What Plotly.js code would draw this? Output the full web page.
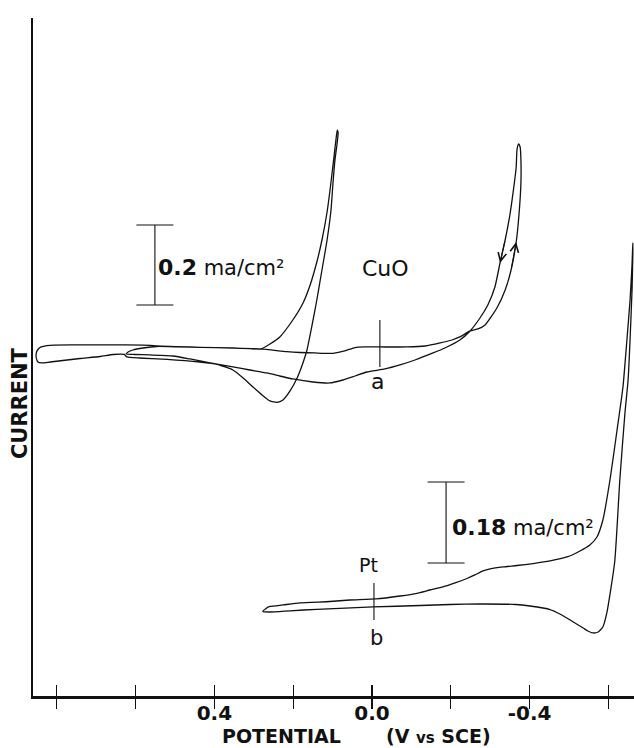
<!DOCTYPE html>
<html>
<head>
<meta charset="utf-8">
<script src="https://cdn.plot.ly/plotly-3.0.1.min.js"></script>
<style>
  html, body { margin: 0; padding: 0; background: #ffffff; }
  #chart { width: 634px; height: 748px; }
</style>
</head>
<body>
<div id="chart"></div>
<script>
// ---------- data (potential in V vs SCE, current in arbitrary chart units) ----------
const potentialTicks = [0.8, 0.6, 0.4, 0.2, 0.0, -0.2, -0.4, -0.6];
const potentialTickText = ['', '', '0.4', '', '0.0', '', '-0.4', ''];

// CuO voltammogram (one continuous pen trace)
const cuoPotential = [
  -0.020, -0.089, -0.135, -0.173, -0.203, -0.223, -0.249,
  -0.269, -0.287, -0.317, -0.338, -0.353, -0.366, -0.373, -0.378, -0.378, -0.376, -0.372,
  -0.368, -0.366, -0.358, -0.350, -0.338, -0.325, -0.312, -0.294, -0.274, -0.249,
  -0.223, -0.185, -0.155, -0.109, -0.071, -0.033, 0.013, 0.043, 0.074, 0.107, 0.150,
  0.201, 0.234, 0.267, 0.310, 0.353, 0.411, 0.462, 0.505, 0.564, 0.602, 0.624,
  0.619, 0.607, 0.581, 0.546,
  0.487, 0.437, 0.353, 0.310, 0.282,
  0.259, 0.234, 0.201, 0.175, 0.157, 0.140, 0.127, 0.114, 0.104, 0.096, 0.091, 0.088,
  0.086, 0.089, 0.094, 0.099, 0.104, 0.114, 0.127, 0.140, 0.152, 0.165, 0.178, 0.190, 0.208, 0.226, 0.241,
  0.259, 0.279, 0.302, 0.327, 0.353, 0.393, 0.437, 0.520, 0.589, 0.622,
  0.629, 0.657, 0.690, 0.741, 0.774, 0.817, 0.838,
  0.848, 0.852, 0.852, 0.848, 0.840,
  0.817, 0.754, 0.690, 0.627, 0.563, 0.546, 0.437, 0.353, 0.282, 0.216, 0.183, 0.145, 0.099, 0.069, 0.043, 0.018, -0.020
];
const cuoCurrent = [
  43.63, 43.63, 43.75, 44.13, 44.50, 44.88, 45.63,
  45.88, 46.38, 48.50, 50.75, 53.25, 56.75, 60.13, 64.13, 67.00, 68.63, 69.00,
  68.25, 66.13, 62.88, 60.13, 57.00, 54.13, 51.13, 48.88, 47.25, 45.63,
  44.50, 43.50, 42.88, 42.00, 41.38, 40.88, 40.50, 40.00, 39.50, 39.13, 39.25,
  39.63, 40.00, 40.38, 40.75, 41.13, 41.63, 42.13, 42.50, 42.63, 42.69, 42.75,
  43.00, 43.25, 43.50, 43.69,
  43.63, 43.59, 43.50, 43.41, 43.38,
  44.00, 44.88, 47.00, 49.13, 51.38, 54.25, 57.00, 60.50, 64.25, 67.63, 69.75, 70.75,
  70.38, 68.88, 67.00, 64.13, 60.75, 57.00, 53.25, 49.50, 46.38, 43.25, 41.25, 39.75, 38.13, 37.00, 36.71,
  36.88, 37.63, 38.63, 39.75, 40.75, 41.46, 41.75, 42.09, 42.25, 42.38,
  42.69, 42.69, 42.44, 42.19, 42.00, 41.75, 41.63,
  41.75, 42.25, 42.88, 43.31, 43.63,
  43.84, 43.88, 43.88, 43.88, 43.84, 43.75, 43.59, 43.50, 43.38, 43.04, 42.94, 42.88, 42.84, 43.13, 43.56, 43.63, 43.63
];

// Pt voltammogram
const ptPotential = [
  0.277, 0.269, 0.259, 0.226, 0.183, 0.107, 0.056, -0.010, -0.071, -0.114, -0.147, -0.180,
  -0.211, -0.241, -0.261, -0.282, -0.300, -0.333, -0.368, -0.409, -0.452, -0.495, -0.528,
  -0.553, -0.571, -0.586, -0.604, -0.622, -0.637, -0.647, -0.655, -0.660, -0.662,
  -0.662, -0.660, -0.655, -0.650, -0.642, -0.629, -0.616, -0.596, -0.586, -0.574, -0.561,
  -0.548, -0.536, -0.503, -0.477, -0.452, -0.401, -0.365, -0.274, -0.198, -0.122, -0.003,
  0.140, 0.208, 0.259, 0.277
];
const ptCurrent = [
  10.56, 10.94, 11.19, 11.38, 11.63, 11.81, 12.00, 12.13, 12.50, 12.84, 13.25, 13.63,
  14.13, 14.69, 15.13, 15.63, 15.88, 16.13, 16.31, 16.56, 16.88, 17.38, 18.13,
  18.88, 19.88, 22.00, 27.00, 33.25, 38.63, 44.50, 49.50, 53.88, 56.63,
  55.13, 50.75, 44.50, 39.50, 35.38, 27.00, 16.75, 10.38, 8.63, 8.00, 7.88,
  8.13, 8.50, 9.50, 10.25, 10.81, 11.25, 11.44, 11.50, 11.44, 11.31, 11.13,
  10.84, 10.65, 10.50, 10.56
];

// scan-direction arrows on the CuO trace: [head index, tail index] into the CuO arrays
const cuoArrowPairs = [[23, 22], [12, 11]];

// starting-potential marks (a: CuO, b: Pt)
const startMarkPotential = [-0.020, -0.005];
const startMarkLow = [41.13, 9.50];
const startMarkHigh = [47.00, 14.13];

// current scale bars
const scaleBarPotential = [0.551, -0.188];
const scaleBarCenter = [53.88, 21.69];
const scaleBarHalf = [5.00, 5.06];
const scaleBarValue = ['0.2', '0.18'];

// ---------- styling ----------
const INK = '#111111';
const FONT = 'DejaVu Sans, Noto Sans, sans-serif';

const markX = [], markY = [];
startMarkPotential.forEach((p, i) => {
  markX.push(p, p, null);
  markY.push(startMarkLow[i], startMarkHigh[i], null);
});

const traces = [
  { x: cuoPotential, y: cuoCurrent, type: 'scatter', mode: 'lines', name: 'CuO',
    line: { color: INK, width: 1.3, shape: 'spline', smoothing: 0.5 }, hoverinfo: 'skip' },
  { x: ptPotential, y: ptCurrent, type: 'scatter', mode: 'lines', name: 'Pt',
    line: { color: INK, width: 1.3, shape: 'spline', smoothing: 0.5 }, hoverinfo: 'skip' },
  { x: markX, y: markY, xaxis: 'x2', type: 'scatter', mode: 'lines', name: 'start',
    line: { color: INK, width: 1.1 }, hoverinfo: 'skip' },
  { x: scaleBarPotential, y: scaleBarCenter, type: 'scatter', mode: 'markers', name: 'scale',
    marker: { size: 1, opacity: 0 },
    error_y: { type: 'data', array: scaleBarHalf, symmetric: true, color: INK, thickness: 1.1, width: 18.5 },
    hoverinfo: 'skip' }
];

const xRange = [0.8604, -0.665];
const textAnnotations = [
  { x: -0.033, y: 53.5, text: 'CuO', font: { size: 22 } },
  { x: -0.014, y: 39.3, text: 'a', font: { size: 22 } },
  { x: 0.009, y: 16.4, text: 'Pt', font: { size: 19 } },
  { x: -0.011, y: 7.3, text: 'b', font: { size: 21 } },
  { x: 0.548, y: 53.6, xanchor: 'left',
    text: '<span style="font-weight:bold;font-size:22px">' + scaleBarValue[0] + '</span> ma/cm²', font: { size: 21 } },
  { x: -0.198, y: 21.1, xanchor: 'left',
    text: '<span style="font-weight:bold;font-size:22px">' + scaleBarValue[1] + '</span> ma/cm²', font: { size: 21 } },
  { xref: 'paper', yref: 'paper', x: 0.414, y: -0.0767, yanchor: 'bottom', borderpad: 0,
    text: '<b>POTENTIAL</b>', font: { size: 19 } },
  { xref: 'paper', yref: 'paper', x: 0.585, y: -0.0767, yanchor: 'bottom', xanchor: 'left', borderpad: 0,
    text: '<b>(V <span style="font-size:15px">vs</span> SCE)</b>', font: { size: 19 } },
  { xref: 'paper', yref: 'paper', x: -0.0216, y: 0.432, textangle: -90,
    text: '<b>CURRENT</b>', font: { size: 21 } }
].map(a => Object.assign({ showarrow: false, xanchor: 'center', yanchor: 'middle',
  xref: 'x', yref: 'y' }, a, { font: Object.assign({ family: FONT, color: INK }, a.font) }));

const arrowAnnotations = cuoArrowPairs.map(([h, t]) => ({
  x: cuoPotential[h], y: cuoCurrent[h], ax: cuoPotential[t], ay: cuoCurrent[t],
  xref: 'x', yref: 'y', axref: 'x', ayref: 'y', text: '', showarrow: true,
  arrowhead: 5, arrowsize: 1.5, arrowwidth: 1.1, arrowcolor: INK, standoff: 0
}));

const layout = {
  width: 634, height: 748,
  margin: { l: 33, r: 0, t: 18, b: 52, pad: 0 },
  paper_bgcolor: '#ffffff', plot_bgcolor: '#ffffff',
  showlegend: false,
  xaxis: {
    range: xRange, showgrid: false, zeroline: false,
    showline: true, linecolor: INK, linewidth: 2.5,
    tickmode: 'array', tickvals: potentialTicks, ticktext: potentialTickText,
    ticks: 'outside', ticklen: 10, tickwidth: 1.3, tickcolor: INK,
    tickfont: { family: FONT, size: 20, color: INK, weight: 'bold' },
    ticklabelstandoff: -13
  },
  xaxis2: {
    overlaying: 'x', matches: 'x', range: xRange, showgrid: false, zeroline: false,
    showline: false, tickmode: 'array', tickvals: potentialTicks,
    ticks: 'inside', ticklen: 11, tickwidth: 1.3, tickcolor: INK, showticklabels: false
  },
  yaxis: {
    range: [0, 84.75], showgrid: false, zeroline: false, showticklabels: false,
    ticks: '', showline: true, linecolor: INK, linewidth: 2.5
  },
  annotations: textAnnotations.concat(arrowAnnotations)
};

Plotly.newPlot('chart', traces, layout, { staticPlot: true, displayModeBar: false });
</script>
</body>
</html>
